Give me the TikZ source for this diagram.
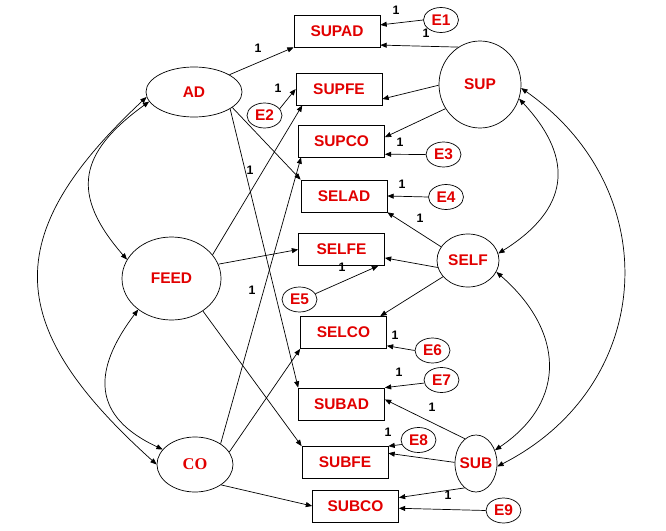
\documentclass[tikz,border=0pt]{standalone}
\usepackage{fontspec}
\setmainfont{Liberation Sans}
\newfontfamily\coserif{Liberation Serif}
\usepackage{tikz}
\usetikzlibrary{arrows.meta,shapes.geometric}
\definecolor{cName}{RGB}{225,0,0}
\definecolor{cLine}{RGB}{0,0,0}

\begin{document}
\begin{tikzpicture}[x=0.03cm,y=0.03cm,font=\fontsize{13.2}{15}\selectfont\bfseries,line width=0.6pt]
\tikzset{obs/.style={draw,rectangle,minimum width=2.58cm,minimum height=0.96cm,inner sep=0pt,text=cName},
  lat/.style={draw,ellipse,inner sep=0pt,text=cName},
  err/.style={draw,ellipse,minimum width=1.05cm,minimum height=0.75cm,inner sep=0pt,text=cName},
  one/.style={font=\fontsize{10.5}{12}\selectfont\bfseries,text=black,inner sep=0pt},
  effect/.style={draw=cLine,-{Triangle[length=1.9mm,width=1.5mm]}},
  cov/.style={draw=cLine,{Triangle[length=1.9mm,width=1.5mm]}-{Triangle[length=1.9mm,width=1.5mm]}}}
\useasboundingbox (0,0) rectangle (666,-531);

% latent factors
\node[lat,minimum width=2.88cm,minimum height=1.5cm] (AD) at (194,-92) {AD};
\node[lat,minimum width=2.97cm,minimum height=2.49cm] (FEED) at (171.5,-278.5) {FEED};
\node[lat,minimum width=2.28cm,minimum height=1.65cm,font=\fontsize{14}{16}\selectfont\coserif\bfseries] (CO) at (195,-464.5) {CO};
\node[lat,minimum width=2.46cm,minimum height=2.61cm] (SUP) at (480,-84.5) {SUP};
\node[lat,minimum width=1.86cm,minimum height=1.59cm] (SELF) at (468,-260.5) {SELF};
\node[lat,minimum width=1.26cm,minimum height=1.71cm,inner xsep=-2pt] (SUB) at (476,-463.5) {SUB};

% indicators
\node[obs] (SUPAD) at (337,-31) {SUPAD};
\node[obs] (SUPFE) at (339,-89) {SUPFE};
\node[obs] (SUPCO) at (341.5,-141) {SUPCO};
\node[obs] (SELAD) at (344,-196) {SELAD};
\node[obs] (SELFE) at (341.5,-249.5) {SELFE};
\node[obs] (SELCO) at (343.5,-332.5) {SELCO};
\node[obs] (SUBAD) at (341.5,-404) {SUBAD};
\node[obs] (SUBFE) at (345,-462.5) {SUBFE};
\node[obs] (SUBCO) at (355.5,-506) {SUBCO};

% residuals
\node[err] (E1) at (441,-20) {E1};
\node[err] (E2) at (264.5,-115.5) {E2};
\node[err] (E3) at (443.5,-154.5) {E3};
\node[err] (E4) at (446,-197) {E4};
\node[err] (E5) at (299.5,-299.5) {E5};
\node[err] (E6) at (432.5,-350.5) {E6};
\node[err] (E7) at (441.5,-380) {E7};
\node[err] (E8) at (418.5,-440) {E8};
\node[err] (E9) at (503.5,-510.5) {E9};

% loadings
\draw[effect] (AD.26) -- (SUPAD.south west);
\draw[effect] (AD.-22) -- (SELAD.north west);
\draw[effect] (AD.-25) -- (SUBAD.north west);
\draw[effect] (FEED.30) -- (SUPFE.204);
\draw[effect] (FEED.17) -- (SELFE.west);
\draw[effect] (FEED.-46) -- (SUBFE.north west);
\draw[effect] (CO.39) -- (SUPCO.202);
\draw[effect] (CO.20) -- (SELCO.south west);
\draw[effect] (CO.-38) -- (SUBCO.west);
\draw[effect] (SUP.120) -- (SUPAD.-18);
\draw[effect] (SUP.181) -- (SUPFE.-13);
\draw[effect] (SUP.215) -- (SUPCO.5);
\draw[effect] (SELF.153) -- (SELAD.south east);
\draw[effect] (SELF.193) -- (SELFE.-11);
\draw[effect] (SELF.213) -- (SELCO.24);
\draw[effect] (SUB.114) -- (SUBAD.6);
\draw[effect] (SUB.177) -- (SUBFE.12);
\draw[effect] (SUB.245) -- (SUBCO.11);

% residual paths
\draw[effect] (E1.west) -- (SUPAD.8);
\draw[effect] (E2.24) -- (SUPFE.west);
\draw[effect] (E3.west) -- (SUPCO.-17);
\draw[effect] (E4.west) -- (SELAD.east);
\draw[effect] (E5.20) -- (SELFE.-24);
\draw[effect] (E6.west) -- (SELCO.-17);
\draw[effect] (E7.190) -- (SUBAD.north east);
\draw[effect] (E8.195) -- (SUBFE.north east);
\draw[effect] (E9.west) -- (SUBCO.-3);

% covariances
\draw[cov] (AD.186) to[out=223,in=138,looseness=1.42] (CO.180);
\draw[cov] (AD.192) to[out=216,in=131,looseness=1.4] (FEED.157);
\draw[cov] (FEED.223) to[out=233,in=155,looseness=1.4] (CO.155);
\draw[cov] (SUP.-20) to[out=313,in=32,looseness=1.36] (SELF.13);
\draw[cov] (SUP.-5) to[out=325,in=27,looseness=1.2] (SUB.-8);
\draw[cov] (SELF.-22) to[out=319,in=34,looseness=1.27] (SUB.35);

% fixed weights
\node[one] (w1) at (396,-10) {1};
\node[one] (w2) at (426,-33) {1};
\node[one] (w3) at (258,-48) {1};
\node[one] (w4) at (278,-88) {1};
\node[one] (w5) at (400,-142) {1};
\node[one] (w6) at (250,-170) {1};
\node[one] (w7) at (402,-184) {1};
\node[one] (w8) at (420,-218) {1};
\node[one] (w9) at (342,-267) {1};
\node[one] (w10) at (252,-290) {1};
\node[one] (w11) at (395,-335) {1};
\node[one] (w12) at (399,-372) {1};
\node[one] (w13) at (432,-407) {1};
\node[one] (w14) at (388,-432) {1};
\node[one] (w15) at (448,-495) {1};
\end{tikzpicture}
\end{document}
